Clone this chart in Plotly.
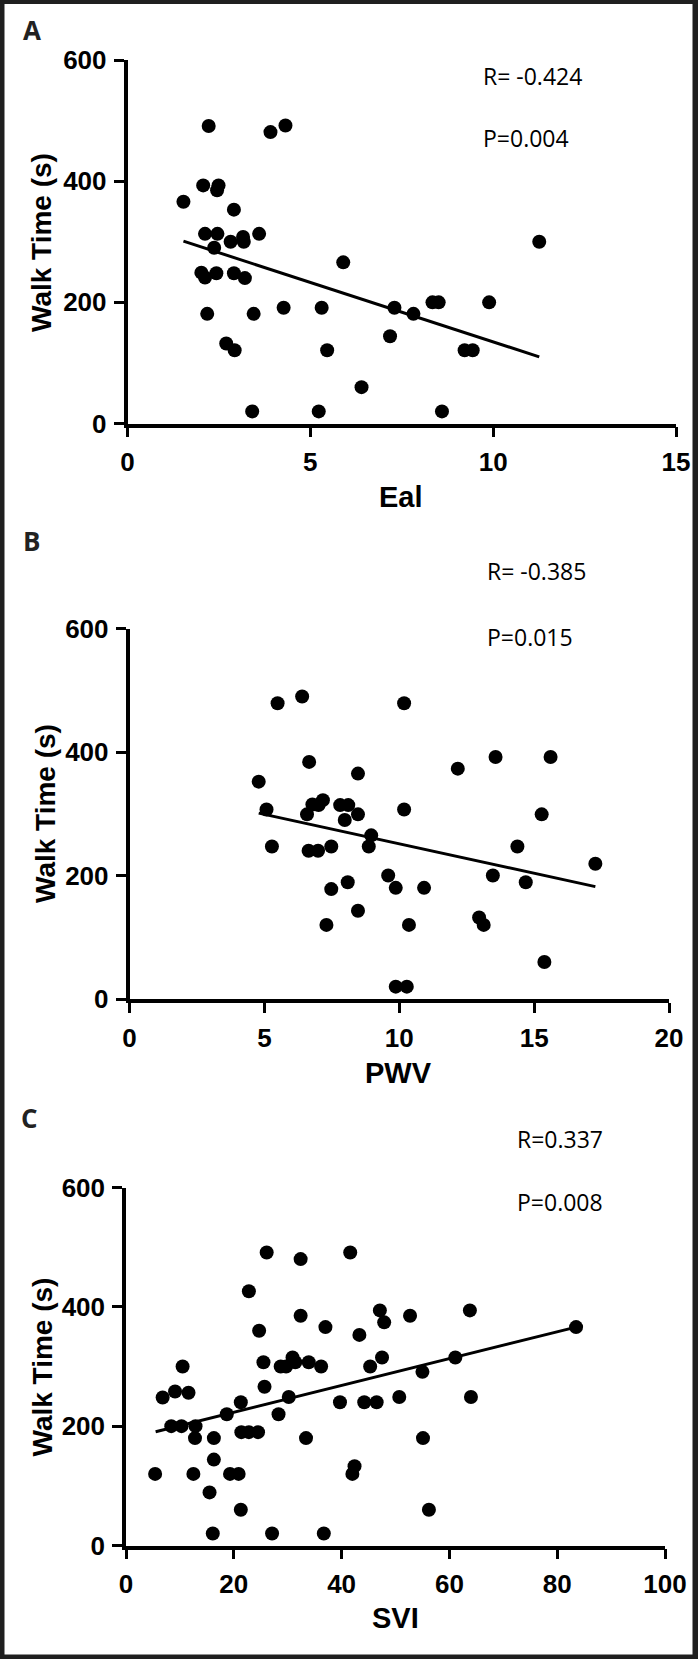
import plotly.graph_objects as go

W, H = 698, 1659

# ---------------- Panel A : Eal vs Walk time ----------------
eal = [1.53, 2.22, 2.07, 2.49, 2.45, 2.91, 2.12, 2.46, 2.37, 2.82, 3.16, 3.18, 3.60,
       2.02, 2.12, 2.43, 2.91, 3.21, 2.18, 3.45, 3.91, 4.32, 4.27, 5.31, 2.70, 2.93,
       5.46, 3.41, 5.23, 5.90, 6.40, 7.18, 7.30, 7.82, 8.34, 8.51, 8.60, 9.22, 9.44,
       9.89, 11.26]
walk_a = [366, 491, 393, 393, 385, 353, 313, 313, 290, 300, 308, 300, 313,
          249, 241, 248, 248, 240, 181, 181, 481, 492, 191, 191, 132, 121,
          121, 20, 20, 266, 60, 144, 191, 181, 200, 200, 20, 121, 121,
          200, 300]
fit_a_x = [1.53, 11.26]
fit_a_y = [301, 110]

# ---------------- Panel B : PWV vs Walk time ----------------
pwv = [4.79, 5.08, 5.28, 5.49, 6.40, 6.66, 6.58, 6.78, 7.01, 7.17, 6.64, 6.99, 7.48,
       7.30, 7.48, 7.81, 8.11, 7.98, 8.47, 8.47, 8.09, 8.47, 8.96, 8.87, 9.59, 9.87,
       10.92, 10.18, 10.18, 10.36, 9.87, 10.28, 12.17, 13.57, 12.96, 13.13, 13.47,
       14.38, 14.69, 15.28, 15.61, 15.38, 17.27]
walk_b = [352, 307, 247, 479, 490, 384, 299, 315, 314, 322, 240, 240, 247,
          120, 178, 314, 314, 290, 299, 365, 189, 143, 265, 247, 200, 180,
          180, 479, 307, 120, 20, 20, 373, 392, 132, 120, 200,
          247, 189, 299, 392, 60, 219]
fit_b_x = [4.79, 17.27]
fit_b_y = [301, 182]

# ---------------- Panel C : SVI vs Walk time ----------------
svi = [5.4, 6.8, 8.4, 9.1, 10.3, 10.5, 11.6, 12.9, 12.8, 12.5, 15.5, 16.3, 16.3, 16.1,
       18.7, 19.3, 20.9, 21.3, 21.4, 21.3, 22.8, 22.8, 24.5, 24.7, 25.5, 25.7, 26.1,
       27.1, 28.3, 28.7, 29.7, 30.2, 30.9, 31.4, 32.4, 32.4, 33.4, 33.9, 36.2, 37.0,
       36.7, 39.7, 41.6, 42.0, 42.4, 43.3, 44.2, 45.3, 46.5, 47.1, 47.5, 47.9, 50.7,
       52.7, 55.0, 55.1, 56.2, 61.1, 63.8, 64.0, 83.5]
walk_c = [120, 248, 200, 258, 200, 300, 256, 200, 180, 120, 89, 180, 144, 20,
          220, 120, 120, 240, 190, 60, 426, 190, 190, 360, 307, 266, 491,
          20, 220, 300, 300, 249, 315, 307, 480, 385, 180, 307, 300, 366,
          20, 240, 491, 120, 133, 353, 240, 300, 240, 394, 315, 374, 249,
          385, 291, 180, 60, 315, 394, 249, 366]
fit_c_x = [5.5, 83.5]
fit_c_y = [190.6, 366]

y_ticks = [0, 200, 400, 600]
x_labels = ["Eal", "PWV", "SVI"]
y_label = "Walk Time (s)"
panel_letters = ["A", "B", "C"]
r_texts = ["R= -0.424", "R= -0.385", "R=0.337"]
p_texts = ["P=0.004", "P=0.015", "P=0.008"]
x_ranges = [[0, 15], [0, 20], [0, 100]]
x_dticks = [5, 5, 20]

# pixel geometry of each panel (left, right, top(600), bottom(0))
boxes = [(127.5, 676, 60, 423.5), (129.5, 669, 628.5, 999), (126, 665, 1187.5, 1545.5)]
letter_pos = [(31.5, 30), (31, 541), (30, 1117.5)]
r_pos = [(481, 76), (485, 571), (515, 1139)]
p_pos = [(481, 138), (485, 637), (515, 1202)]
xtitle_pos = [(401, 497), (398.5, 1073), (395, 1618)]
ytitle_pos = [(41, 243), (45, 814), (41.5, 1367)]

AX_FONT = "Liberation Sans, Arial, sans-serif"
TXT_FONT = "Open Sans, Noto Sans, sans-serif"
FRAME = "#1f1f1f"

fig = go.Figure()
datasets = [(eal, walk_a, fit_a_x, fit_a_y), (pwv, walk_b, fit_b_x, fit_b_y),
            (svi, walk_c, fit_c_x, fit_c_y)]

for i, (xs, ys, fx, fy) in enumerate(datasets):
    xa = "x" if i == 0 else f"x{i+1}"
    ya = "y" if i == 0 else f"y{i+1}"
    fig.add_trace(go.Scatter(x=xs, y=ys, mode="markers", xaxis=xa, yaxis=ya,
                             marker=dict(size=14, color="black", line=dict(width=0)),
                             showlegend=False, hoverinfo="x+y"))
    fig.add_trace(go.Scatter(x=fx, y=fy, mode="lines", xaxis=xa, yaxis=ya,
                             line=dict(color="black", width=3),
                             showlegend=False, hoverinfo="skip"))

# dark page background; a white sheet leaves a thin dark frame around the picture
layout = dict(width=W, height=H,
              margin=dict(l=0, r=0, t=0, b=0, pad=0, autoexpand=False),
              paper_bgcolor=FRAME, plot_bgcolor="white", showlegend=False,
              template="none")

annotations = []
for i in range(3):
    l, r, t, b = boxes[i]
    xkey = "xaxis" if i == 0 else f"xaxis{i+1}"
    ykey = "yaxis" if i == 0 else f"yaxis{i+1}"
    yref = "y" if i == 0 else f"y{i+1}"
    xref = "x" if i == 0 else f"x{i+1}"
    common = dict(showline=True, linewidth=3.5, linecolor="black", ticks="outside",
                  ticklen=10, tickwidth=3, tickcolor="black", showgrid=False,
                  zeroline=False, fixedrange=True, automargin=False,
                  tickfont=dict(family=AX_FONT, size=26, color="black", weight=700))
    layout[xkey] = dict(common, domain=[l / W, r / W], range=x_ranges[i],
                        dtick=x_dticks[i], tick0=0, anchor=yref,
                        ticklabelstandoff=3)
    layout[ykey] = dict(common, domain=[1 - b / H, 1 - t / H], range=[0, 600],
                        tickvals=y_ticks, anchor=xref, ticklabelstandoff=2)
    tx, ty = xtitle_pos[i]
    annotations.append(dict(text=x_labels[i], xref="paper", yref="paper",
                            x=tx / W, y=1 - ty / H, xanchor="center", yanchor="middle",
                            showarrow=False,
                            font=dict(family=AX_FONT, size=29, color="black", weight=700)))
    yx, yy = ytitle_pos[i]
    annotations.append(dict(text=y_label, xref="paper", yref="paper", textangle=-90,
                            x=yx / W, y=1 - yy / H, xanchor="center", yanchor="middle",
                            showarrow=False,
                            font=dict(family=AX_FONT, size=28, color="black", weight=700)))
    lx, ly = letter_pos[i]
    annotations.append(dict(text=panel_letters[i], xref="paper", yref="paper",
                            x=lx / W, y=1 - ly / H, xanchor="center", yanchor="middle",
                            showarrow=False,
                            font=dict(family=TXT_FONT, size=26, color="#222", weight=700)))
    rx, ry = r_pos[i]
    annotations.append(dict(text=r_texts[i], xref="paper", yref="paper",
                            x=rx / W, y=1 - ry / H, xanchor="left", yanchor="middle",
                            showarrow=False,
                            font=dict(family=TXT_FONT, size=23, color="black")))
    px_, py_ = p_pos[i]
    annotations.append(dict(text=p_texts[i], xref="paper", yref="paper",
                            x=px_ / W, y=1 - py_ / H, xanchor="left", yanchor="middle",
                            showarrow=False,
                            font=dict(family=TXT_FONT, size=23, color="black")))

layout["annotations"] = annotations

bl, br, bt, bb = 4.5, 5.5, 4.0, 4.5
layout["shapes"] = [dict(type="rect", xref="paper", yref="paper", layer="below",
                         x0=bl / W, x1=1 - br / W, y0=bb / H, y1=1 - bt / H,
                         line=dict(width=0), fillcolor="white")]
fig.update_layout(**layout)

fig.write_html("out.html", config={"displayModeBar": False},
               post_script="document.body.style.margin='0';document.body.style.overflow='hidden';")
